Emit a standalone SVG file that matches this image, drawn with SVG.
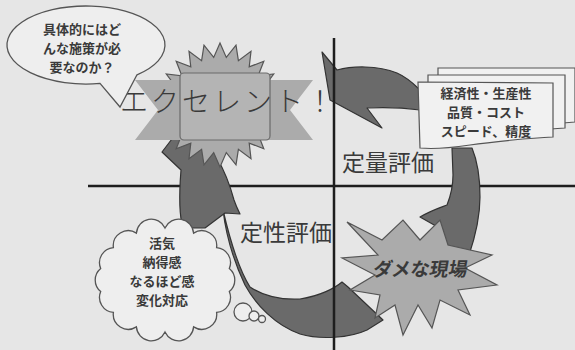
<svg xmlns="http://www.w3.org/2000/svg" width="575" height="350" viewBox="0 0 575 350">
<defs>
<style>
.bg{fill:#e6e6e6}
.arrow{fill:#6a6a6a;stroke:#333;stroke-width:1.2;stroke-linejoin:round}
.burst{fill:#ababab;stroke:#555;stroke-width:1.2;stroke-linejoin:miter}
.bubble{fill:#eeeeee;stroke:#555;stroke-width:1.3}
.card{fill:#f1f1f1;stroke:#555;stroke-width:1.2}
.axis{stroke:#1e1e1e;stroke-width:2.5;fill:none}
.jp{font-family:"Noto Sans CJK JP","Noto Sans CJK SC",sans-serif;fill:#3a3a3a}
.small{font-size:13px;font-weight:bold;text-anchor:middle}
.big{font-size:23px}
</style>
</defs>
<rect class="bg" x="0" y="0" width="575" height="350"/>

<line class="axis" x1="88" y1="186" x2="575" y2="186"/>

<g id="connectors">
<path id="arrow-top" class="arrow" d="M322,52 L337,70 C352,66 377,65 397,73 C406,77 413,83 419,89 L420,110 C405,108 385,107 367,108 L382,128 L330,100 Z"/>
<path id="arrow-right" class="arrow" d="M452,148 L472,148 C477,160 480,178 480,197 C480,215 476,235 468,258 L440,258 C441,248 442,238 443,230 L420,217 C432,210 442,207 447,205 C451,195 453,185 453,175 Z"/>
<path id="arrow-bottom" class="arrow" d="M223,210 C226,235 234,262 245,285 C256,305 275,325 300,334 C320,340 350,338 367,330 L383,320 L348,287 L342,282 C335,288 320,296 300,299 C280,300 262,295 250,287 C238,268 230,240 223,210 Z"/>
<path id="arrow-left" class="arrow" d="M162,152 L175,135 L217,135 L217,158 C224,170 230,185 234,200 C236,206 238,210 240,214 L225,213 L205,228 L183,228 C179,215 179,195 181,170 Z"/>
</g>

<line class="axis" x1="334" y1="38" x2="334" y2="350"/>

<g id="excellent">
<polygon class="burst" points="282,105 267.6,111.3 279.9,121 264.3,123.4 273.7,136 258.1,134.2 263.8,148.8 249.2,143.1 251,158.7 238.4,149.3 236,164.9 226.3,152.6 220,167 213.7,152.6 204,164.9 201.6,149.3 189,158.7 190.8,143.1 176.2,148.8 181.9,134.2 166.3,136 175.7,123.4 160.1,121 172.4,111.3 158,105 172.4,98.7 160.1,89 175.7,86.6 166.3,74 181.9,75.8 176.2,61.2 190.8,66.9 189,51.3 201.6,60.7 204,45.1 213.7,57.4 220,43 226.3,57.4 236,45.1 238.4,60.7 251,51.3 249.2,66.9 263.8,61.2 258.1,75.8 273.7,74 264.3,86.6 279.9,89 267.6,98.7"/>
<polygon class="burst" points="135,80 313,80 290,110 313,140 135,140 158,110" style="stroke:none"/>
<rect x="180" y="73" width="90" height="67" rx="4" fill="#b4b4b4" stroke="#6a6a6a" stroke-width="1.2"/>
<text class="jp" x="120" y="112" font-size="28" letter-spacing="3" font-weight="300">エクセレント！</text>
</g>

<g id="question-bubble">
<path class="bubble" d="M100,83.4 L120,107 L137,74.8 A79,39 0 1 0 100,83.4 Z"/>
<text class="jp small"><tspan x="82" y="34">具体的にはど</tspan><tspan x="82" y="53">んな施策が必</tspan><tspan x="82" y="72">要なのか？</tspan></text>
</g>

<g id="metrics-card">
<path class="card" d="M438,68 L575,68 L575,122 C560,123 540,126 520,130 L438,130 Z"/>
<path class="card" d="M428,75 L565,75 L565,128 C545,129 520,132 500,136 L428,138 Z"/>
<path class="card" d="M418,82 L553,83 L553,137 C530,138 490,142 470,145 C450,148 430,149 420,148 Z"/>
<text class="jp small"><tspan x="486" y="98">経済性・生産性</tspan><tspan x="486" y="117">品質・コスト</tspan><tspan x="486" y="136">スピード、精度</tspan></text>
</g>

<text class="jp big" x="342" y="171">定量評価</text>
<text class="jp big" x="240" y="241">定性評価</text>

<g id="dame">
<polygon class="burst" points="347,222 382,240 403,220 420,240 440,220 448,245 492,255 465,268 497,285 458,290 470,315 440,300 432,328 418,305 403,335 395,305 375,318 380,295 350,290 375,275 342,258 378,255"/>
<text class="jp" x="420" y="276" font-size="19" font-weight="bold" text-anchor="middle" transform="skewX(-10) translate(48,0)">ダメな現場</text>
</g>

<g id="feeling-cloud">
<path class="bubble" d="M165,228 A15,15 0 0 1 193.6,233.1 A15,15 0 0 1 216.6,247.6 A15,15 0 0 1 229.3,268.4 A15,15 0 0 1 229.3,291.6 A15,15 0 0 1 216.6,312.4 A15,15 0 0 1 193.6,326.9 A15,15 0 0 1 165,332 A15,15 0 0 1 136.4,326.9 A15,15 0 0 1 113.4,312.4 A15,15 0 0 1 100.7,291.6 A15,15 0 0 1 100.7,268.4 A15,15 0 0 1 113.4,247.6 A15,15 0 0 1 136.4,233.1 A15,15 0 0 1 165,228 Z"/>
<circle class="bubble" cx="243" cy="312" r="9"/>
<circle class="bubble" cx="254" cy="316" r="5"/>
<circle class="bubble" cx="262" cy="319" r="3.5"/>
<text class="jp small"><tspan x="162" y="248">活気</tspan><tspan x="162" y="267">納得感</tspan><tspan x="162" y="286">なるほど感</tspan><tspan x="162" y="305">変化対応</tspan></text>
</g>
</svg>
